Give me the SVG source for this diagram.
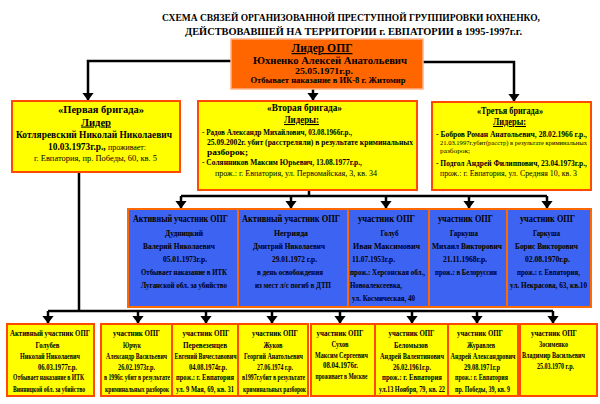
<svg xmlns="http://www.w3.org/2000/svg" width="600" height="404" viewBox="0 0 600 404">
<style>
text{font-family:"Liberation Serif","Times New Roman",serif;font-weight:bold;fill:#000}
.c{text-anchor:middle}
.e{text-anchor:end}
.n{font-weight:normal}
.u{text-decoration:underline}
.by{fill:#FFFF00;stroke:#FF4A00;stroke-width:2}
.bb{fill:#3D63F2;stroke:#FF6A00;stroke-width:2}
.bo{fill:#FF6600;stroke:#FFB48A;stroke-width:1.5}
.cn{fill:none;stroke:#000;stroke-width:2.5}
.ar{fill:none;stroke:#000;stroke-width:2.5;marker-end:url(#ah)}
</style>
<defs>
<marker id="ah" markerUnits="userSpaceOnUse" markerWidth="8" markerHeight="12" viewBox="0 0 8 12" refX="7.5" refY="6" orient="auto">
<path d="M0,0 L8,6 L0,12 z" fill="#000"/>
</marker>
</defs>
<rect width="600" height="404" fill="#fff"/>

<g id="title">
<text class="c" x="351" y="20.5" font-size="11" textLength="378" lengthAdjust="spacingAndGlyphs">СХЕМА СВЯЗЕЙ ОРГАНИЗОВАННОЙ ПРЕСТУПНОЙ ГРУППИРОВКИ ЮХНЕНКО,</text>
<text class="c" x="353.5" y="35" font-size="11" textLength="337" lengthAdjust="spacingAndGlyphs">ДЕЙСТВОВАВШЕЙ  НА ТЕРРИТОРИИ г. ЕВПАТОРИИ в 1995-1997г.г.</text>
</g>

<g id="connectors">
<path class="ar" d="M231,61 H88 V100"/>
<path class="ar" d="M423,62 H514 V101"/>
<path class="ar" d="M313,89 V100"/>
<path class="cn" d="M309,190 V196 M181,196 H547"/>
<path class="ar" d="M181,196 V208"/>
<path class="ar" d="M291,196 V208"/>
<path class="ar" d="M386,196 V208"/>
<path class="ar" d="M469,196 V208"/>
<path class="ar" d="M547,196 V208"/>
<path class="cn" d="M79,172 V311 M48,311 H553"/>
<path class="ar" d="M48,311 V323"/>
<path class="ar" d="M138,311 V323"/>
<path class="ar" d="M206,311 V323"/>
<path class="ar" d="M272,311 V323"/>
<path class="ar" d="M340,311 V323"/>
<path class="ar" d="M412,311 V323"/>
<path class="ar" d="M477,311 V323"/>
<path class="ar" d="M553,311 V323"/>
</g>

<g id="leader">
<rect class="bo" x="231" y="39" width="192" height="50"/>
<text class="c u" x="322" y="52" font-size="12" textLength="61" lengthAdjust="spacingAndGlyphs">Лидер ОПГ</text>
<text class="c" x="330" y="64" font-size="9.5" textLength="154" lengthAdjust="spacingAndGlyphs">Юхненко Алексей Анатольевич</text>
<text class="c" x="324" y="73.5" font-size="9" textLength="58" lengthAdjust="spacingAndGlyphs">25.05.1971г.р.</text>
<text class="c" x="328" y="83" font-size="8" textLength="155" lengthAdjust="spacingAndGlyphs">Отбывает наказание в ИК-8 г. Житомир</text>
</g>

<g id="brigade1">
<rect class="by" x="12" y="101" width="168" height="71"/>
<text class="c" x="101" y="112.5" font-size="11" textLength="86" lengthAdjust="spacingAndGlyphs">«Первая бригада»</text>
<text class="c u" x="96" y="125.5" font-size="11" textLength="30" lengthAdjust="spacingAndGlyphs">Лидер</text>
<text class="c" x="94" y="137.5" font-size="9.5" textLength="156" lengthAdjust="spacingAndGlyphs">Котляревский Николай Николаевич</text>
<text class="c" x="97" y="150" font-size="9.5" textLength="98" lengthAdjust="spacingAndGlyphs">10.03.1973г.р., <tspan class="n" font-size="8">проживает:</tspan></text>
<text class="c n" x="95.5" y="161" font-size="8.5" textLength="123" lengthAdjust="spacingAndGlyphs">г. Евпатория, пр. Победы, 60, кв. 5</text>
</g>

<g id="brigade2">
<rect class="by" x="198" y="101" width="219" height="89"/>
<text class="c" x="304.5" y="110.5" font-size="10.5" textLength="75" lengthAdjust="spacingAndGlyphs">«Вторая бригада»</text>
<text class="c u" x="301.5" y="123" font-size="10.5" textLength="35" lengthAdjust="spacingAndGlyphs">Лидеры:</text>
<text x="202" y="135" font-size="9" textLength="150" lengthAdjust="spacingAndGlyphs">- Радов Александр Михайлович, 03.08.1966г.р.,</text>
<text class="e" x="413" y="145" font-size="8.5" textLength="206" lengthAdjust="spacingAndGlyphs">25.09.2002г. убит (расстреляли) в результате криминальных</text>
<text x="207" y="155" font-size="8.5" textLength="41" lengthAdjust="spacingAndGlyphs">разборок;</text>
<text x="202" y="164.5" font-size="9" textLength="160" lengthAdjust="spacingAndGlyphs">- Солянников Максим Юрьевич, 13.08.1977г.р.,</text>
<text class="n" x="215" y="176" font-size="8.5" textLength="162" lengthAdjust="spacingAndGlyphs">прож.: г. Евпатория, ул. Первомайская, 3, кв. 34</text>
</g>

<g id="brigade3">
<rect class="by" x="432" y="102" width="159" height="88"/>
<text class="c" x="510" y="114" font-size="10" textLength="66" lengthAdjust="spacingAndGlyphs">«Третья бригада»</text>
<text class="c u" x="509.5" y="125" font-size="10" textLength="33" lengthAdjust="spacingAndGlyphs">Лидеры:</text>
<text class="e" x="587" y="136.5" font-size="8.5" textLength="151" lengthAdjust="spacingAndGlyphs">- Бобров Роман Анатольевич, 28.02.1966 г.р.,</text>
<text class="n e" x="587" y="145" font-size="7" textLength="147" lengthAdjust="spacingAndGlyphs">21.03.1997г.убит(расстр) в результате криминальных</text>
<text class="n" x="440" y="152.5" font-size="7" textLength="30" lengthAdjust="spacingAndGlyphs">разборок;</text>
<text class="e" x="587" y="166" font-size="8.5" textLength="151" lengthAdjust="spacingAndGlyphs">- Подгол Андрей Филиппович, 23.04.1973г.р.,</text>
<text class="n e" x="577" y="176" font-size="8" textLength="137" lengthAdjust="spacingAndGlyphs">прож.: г. Евпатория, ул. Средняя 10, кв. 3</text>
</g>

<g id="member-dudnitsky">
<rect class="bb" x="128" y="209" width="110" height="98"/>
<text class="c" x="180.5" y="221.7" font-size="10" textLength="95" lengthAdjust="spacingAndGlyphs">Активный участник ОПГ</text>
<text class="c" x="184" y="236" font-size="9" textLength="38" lengthAdjust="spacingAndGlyphs">Дудницкий</text>
<text class="c" x="179" y="249" font-size="9" textLength="72" lengthAdjust="spacingAndGlyphs">Валерий Николаевич</text>
<text class="c" x="185" y="261.7" font-size="9" textLength="44" lengthAdjust="spacingAndGlyphs">05.01.1973г.р.</text>
<text class="c" x="184" y="275" font-size="9" textLength="86" lengthAdjust="spacingAndGlyphs">Отбывает наказание в ИТК</text>
<text class="c" x="184" y="287.7" font-size="9" textLength="86" lengthAdjust="spacingAndGlyphs">Луганской обл. за убийство</text>
</g>

<g id="member-negriyada">
<rect class="bb" x="238" y="209" width="110" height="98"/>
<text class="c" x="291" y="221.7" font-size="10" textLength="98" lengthAdjust="spacingAndGlyphs">Активный участник ОПГ</text>
<text class="c" x="291" y="236" font-size="9" textLength="34" lengthAdjust="spacingAndGlyphs">Негрияда</text>
<text class="c" x="289" y="249" font-size="9" textLength="72" lengthAdjust="spacingAndGlyphs">Дмитрий Николаевич</text>
<text class="c" x="294.5" y="261.7" font-size="9" textLength="45" lengthAdjust="spacingAndGlyphs">29.01.1972 г.р.</text>
<text class="c" x="290" y="275" font-size="9" textLength="66" lengthAdjust="spacingAndGlyphs">в день освобождения</text>
<text class="c" x="293" y="287.7" font-size="9" textLength="76" lengthAdjust="spacingAndGlyphs">из мест л/с погиб в ДТП</text>
</g>

<g id="member-golub">
<rect class="bb" x="348" y="209" width="81" height="98"/>
<text class="c" x="386.5" y="221.7" font-size="10" textLength="57" lengthAdjust="spacingAndGlyphs">участник ОПГ</text>
<text class="c" x="389.5" y="236" font-size="9" textLength="18" lengthAdjust="spacingAndGlyphs">Голуб</text>
<text class="c" x="386.5" y="249" font-size="9" textLength="67" lengthAdjust="spacingAndGlyphs">Иван Максимович</text>
<text x="352" y="261.7" font-size="9" textLength="43" lengthAdjust="spacingAndGlyphs">11.07.1953г.р.</text>
<text x="350" y="275" font-size="9" textLength="75" lengthAdjust="spacingAndGlyphs">прож.: Херсонская обл.,</text>
<text x="350" y="287.7" font-size="9" textLength="52" lengthAdjust="spacingAndGlyphs">Новоалексеевка,</text>
<text x="352" y="300.5" font-size="9" textLength="63" lengthAdjust="spacingAndGlyphs">ул. Космическая, 40</text>
</g>

<g id="member-garkusha-m">
<rect class="bb" x="429" y="209" width="78" height="98"/>
<text class="c" x="465.5" y="221.7" font-size="10" textLength="55" lengthAdjust="spacingAndGlyphs">участник ОПГ</text>
<text class="c" x="464" y="236" font-size="9" textLength="28" lengthAdjust="spacingAndGlyphs">Гаркуша</text>
<text class="c" x="467" y="249" font-size="9" textLength="70" lengthAdjust="spacingAndGlyphs">Михаил Викторович</text>
<text class="c" x="465" y="261.7" font-size="9" textLength="44" lengthAdjust="spacingAndGlyphs">21.11.1968г.р.</text>
<text class="c" x="466" y="275" font-size="9" textLength="62" lengthAdjust="spacingAndGlyphs">прож.: в Белоруссии</text>
</g>

<g id="member-garkusha-b">
<rect class="bb" x="507" y="209" width="84" height="98"/>
<text class="c" x="547.5" y="221.7" font-size="10" textLength="55" lengthAdjust="spacingAndGlyphs">участник ОПГ</text>
<text class="c" x="546.5" y="236" font-size="9" textLength="27" lengthAdjust="spacingAndGlyphs">Гаркуша</text>
<text class="c" x="546.5" y="249" font-size="9" textLength="63" lengthAdjust="spacingAndGlyphs">Борис Викторович</text>
<text class="c" x="547.5" y="261.7" font-size="9" textLength="45" lengthAdjust="spacingAndGlyphs">02.08.1970г.р.</text>
<text class="c" x="548.5" y="275" font-size="9" textLength="63" lengthAdjust="spacingAndGlyphs">прож.: г. Евпатория,</text>
<text class="c" x="548.5" y="287.7" font-size="9" textLength="77" lengthAdjust="spacingAndGlyphs">ул. Некрасова, 63, кв.10</text>
</g>

<g id="member-golubev">
<rect class="by" x="7" y="324" width="87" height="72"/>
<text class="c" x="50" y="335.5" font-size="9" textLength="80" lengthAdjust="spacingAndGlyphs">Активный участник ОПГ</text>
<text class="c" x="47.5" y="347.5" font-size="8" textLength="24" lengthAdjust="spacingAndGlyphs">Голубев</text>
<text class="c" x="50" y="359" font-size="8" textLength="60" lengthAdjust="spacingAndGlyphs">Николай Николаевич</text>
<text class="c" x="57.5" y="369.5" font-size="8" textLength="39" lengthAdjust="spacingAndGlyphs">06.03.1977г.р.</text>
<text class="c" x="48.5" y="380" font-size="8" textLength="71" lengthAdjust="spacingAndGlyphs">Отбывает наказание в ИТК</text>
<text class="c" x="49" y="391.5" font-size="8" textLength="72" lengthAdjust="spacingAndGlyphs">Винницкой обл. за убийство</text>
</g>

<g id="member-yurchuk">
<rect class="by" x="101" y="324" width="71" height="72"/>
<text class="c" x="136.5" y="335.5" font-size="9" textLength="47" lengthAdjust="spacingAndGlyphs">участник ОПГ</text>
<text class="c" x="132" y="347.5" font-size="8" textLength="18" lengthAdjust="spacingAndGlyphs">Юрчук</text>
<text class="c" x="136.5" y="359" font-size="8" textLength="61" lengthAdjust="spacingAndGlyphs">Александр Васильевич</text>
<text class="c" x="136.5" y="369.5" font-size="8" textLength="37" lengthAdjust="spacingAndGlyphs">26.02.1973г.р.</text>
<text class="c" x="137" y="380" font-size="8" textLength="66" lengthAdjust="spacingAndGlyphs">в 1996г. убит в результате</text>
<text class="c" x="137" y="391.5" font-size="8" textLength="64" lengthAdjust="spacingAndGlyphs">криминальных разборок</text>
</g>

<g id="member-perevezentsev">
<rect class="by" x="172" y="324" width="66" height="72"/>
<text class="c" x="206" y="335.5" font-size="9" textLength="47" lengthAdjust="spacingAndGlyphs">участник ОПГ</text>
<text class="c" x="205" y="347.5" font-size="8" textLength="44" lengthAdjust="spacingAndGlyphs">Перевезенцев</text>
<text class="c" x="205.5" y="359" font-size="8" textLength="62" lengthAdjust="spacingAndGlyphs">Евгений Вячеславович</text>
<text class="c" x="208" y="369.5" font-size="8" textLength="38" lengthAdjust="spacingAndGlyphs">04.08.1974г.р.</text>
<text class="c" x="205" y="380" font-size="8" textLength="58" lengthAdjust="spacingAndGlyphs">прож.: г. Евпатория</text>
<text class="c" x="205" y="391.5" font-size="8" textLength="58" lengthAdjust="spacingAndGlyphs">ул. 9 Мая, 69, кв. 31</text>
</g>

<g id="member-zhukov">
<rect class="by" x="238" y="324" width="70" height="72"/>
<text class="c" x="275" y="335.5" font-size="9" textLength="46" lengthAdjust="spacingAndGlyphs">участник ОПГ</text>
<text class="c" x="273" y="347.5" font-size="8" textLength="19" lengthAdjust="spacingAndGlyphs">Жуков</text>
<text class="c" x="273.5" y="359" font-size="8" textLength="59" lengthAdjust="spacingAndGlyphs">Георгий Анатольевич</text>
<text class="c" x="275" y="369.5" font-size="8" textLength="36" lengthAdjust="spacingAndGlyphs">27.06.1974 г.р.</text>
<text class="c" x="273.5" y="380" font-size="8" textLength="63" lengthAdjust="spacingAndGlyphs">в1997г.убит в результате</text>
<text class="c" x="274.5" y="391.5" font-size="8" textLength="63" lengthAdjust="spacingAndGlyphs">криминальных разборок</text>
</g>

<g id="member-sukhov">
<rect class="by" x="311" y="324" width="64" height="72"/>
<text class="c" x="340" y="335.5" font-size="9" textLength="47" lengthAdjust="spacingAndGlyphs">участник ОПГ</text>
<text class="c" x="340" y="347" font-size="8" textLength="17" lengthAdjust="spacingAndGlyphs">Сухов</text>
<text class="c" x="341.5" y="358" font-size="8" textLength="53" lengthAdjust="spacingAndGlyphs">Максим Сергеевич</text>
<text class="c" x="340.5" y="368" font-size="8" textLength="35" lengthAdjust="spacingAndGlyphs">08.04.1976г.</text>
<text class="c" x="341.5" y="378.5" font-size="8" textLength="52" lengthAdjust="spacingAndGlyphs">проживает в Москве</text>
</g>

<g id="member-belomyzov">
<rect class="by" x="375" y="324" width="73" height="72"/>
<text class="c" x="411.5" y="335.5" font-size="9" textLength="46" lengthAdjust="spacingAndGlyphs">участник ОПГ</text>
<text class="c" x="411" y="347.5" font-size="8" textLength="34" lengthAdjust="spacingAndGlyphs">Беломызов</text>
<text class="c" x="412" y="359" font-size="8" textLength="64" lengthAdjust="spacingAndGlyphs">Андрей Валентинович</text>
<text class="c" x="412" y="369.5" font-size="8" textLength="38" lengthAdjust="spacingAndGlyphs">26.02.1961г.р.</text>
<text class="c" x="412" y="380" font-size="8" textLength="60" lengthAdjust="spacingAndGlyphs">прож.: г. Евпатория</text>
<text class="c" x="412" y="391.5" font-size="8" textLength="66" lengthAdjust="spacingAndGlyphs">ул.13 Ноября, 79, кв. 22</text>
</g>

<g id="member-zhuravlev">
<rect class="by" x="448" y="324" width="70" height="72"/>
<text class="c" x="480" y="335.5" font-size="9" textLength="46" lengthAdjust="spacingAndGlyphs">участник ОПГ</text>
<text class="c" x="481" y="347.5" font-size="8" textLength="28" lengthAdjust="spacingAndGlyphs">Журавлев</text>
<text class="c" x="483" y="359" font-size="8" textLength="65" lengthAdjust="spacingAndGlyphs">Андрей Александрович</text>
<text class="c" x="482" y="369.5" font-size="8" textLength="36" lengthAdjust="spacingAndGlyphs">29.08.1971г.р</text>
<text class="c" x="481.5" y="380" font-size="8" textLength="53" lengthAdjust="spacingAndGlyphs">прож.: г. Евпатория</text>
<text class="c" x="482.5" y="391.5" font-size="8" textLength="55" lengthAdjust="spacingAndGlyphs">пр. Победы, 39, кв. 9</text>
</g>

<g id="member-zosimenko">
<rect class="by" x="520" y="324" width="77" height="72"/>
<text class="c" x="554" y="335.5" font-size="9" textLength="46" lengthAdjust="spacingAndGlyphs">участник ОПГ</text>
<text class="c" x="553.5" y="347" font-size="8" textLength="29" lengthAdjust="spacingAndGlyphs">Зосименко</text>
<text class="c" x="553.5" y="358" font-size="8" textLength="63" lengthAdjust="spacingAndGlyphs">Владимир Васильевич</text>
<text class="c" x="555.5" y="369" font-size="8" textLength="37" lengthAdjust="spacingAndGlyphs">25.03.1970 г.р.</text>
</g>
</svg>
